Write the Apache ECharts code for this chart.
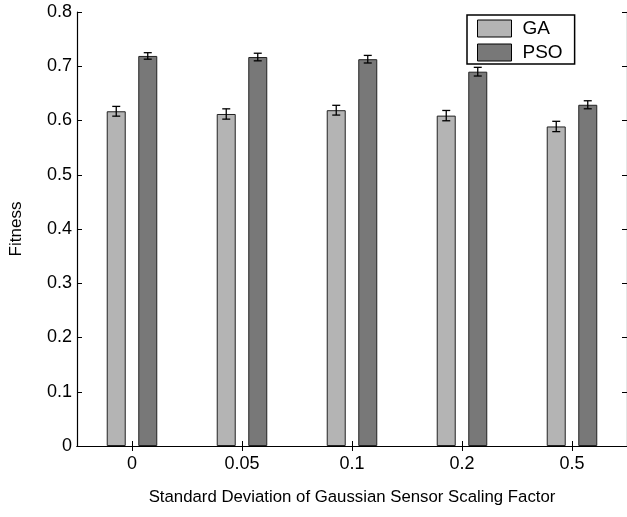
<!DOCTYPE html>
<html><head><meta charset="utf-8">
<script src="https://cdn.jsdelivr.net/npm/echarts@6/dist/echarts.min.js"></script>
<style>html,body{margin:0;padding:0;background:#fff}#c{width:627px;height:517px}</style>
</head><body><div id="c"></div>
<script>
const categories = ['0', '0.05', '0.1', '0.2', '0.5'];
const gaValues = [0.617, 0.612, 0.619, 0.609, 0.589];
const gaErrors = [0.009, 0.0095, 0.009, 0.0095, 0.0095];
const psoValues = [0.719, 0.717, 0.713, 0.690, 0.629];
const psoErrors = [0.006, 0.007, 0.007, 0.008, 0.0074];
const yTicks = [0, 0.1, 0.2, 0.3, 0.4, 0.5, 0.6, 0.7, 0.8];

const FONT = '"Liberation Sans", Arial, Helvetica, sans-serif';
const chart = echarts.init(document.getElementById('c'), null, {renderer: 'canvas'});

function errData(vals, errs) {
  return vals.map((v, i) => [i, v - errs[i], v + errs[i]]);
}
function errSeries(name, vals, errs, offset) {
  return {
    type: 'custom', name: name + ' err', z: 10, silent: true,
    data: errData(vals, errs),
    renderItem: function (params, api) {
      const lo = api.coord([api.value(0), api.value(1)]);
      const hi = api.coord([api.value(0), api.value(2)]);
      const x = lo[0] + offset;
      const cap = 4;
      const st = {stroke: '#000', lineWidth: 1.3};
      return {type: 'group', children: [
        {type: 'line', shape: {x1: x, y1: lo[1], x2: x, y2: hi[1]}, style: st},
        {type: 'line', shape: {x1: x - cap, y1: lo[1], x2: x + cap, y2: lo[1]}, style: st},
        {type: 'line', shape: {x1: x - cap, y1: hi[1], x2: x + cap, y2: hi[1]}, style: st}
      ]};
    }
  };
}

const axisLine = {show: true, lineStyle: {color: '#000', width: 1.2}};
chart.setOption({
  animation: false,
  backgroundColor: '#fff',
  textStyle: {fontFamily: FONT},
  grid: {left: 77, top: 12, width: 552, height: 434, containLabel: false},
  legend: {
    data: ['GA', 'PSO'], orient: 'vertical', left: 467, top: 15,
    icon: 'rect',
    itemWidth: 34, itemHeight: 17, itemGap: 5,
    padding: [4, 12, 2, 10],
    borderColor: '#000', borderWidth: 1.5, backgroundColor: '#fff',
    textStyle: {fontSize: 19, lineHeight: 17, color: '#000', fontFamily: FONT, padding: [0, 0, 0, 6]},
    itemStyle: {borderColor: '#000', borderWidth: 1}
  },
  xAxis: [{
    type: 'category', data: categories, position: 'bottom',
    axisLine: axisLine,
    axisTick: {show: true, inside: true, alignWithLabel: true, length: 5, lineStyle: {color: '#000'}},
    axisLabel: {fontSize: 18, color: '#000', margin: 9, fontFamily: FONT},
    name: 'Standard Deviation of Gaussian Sensor Scaling Factor',
    nameLocation: 'middle', nameGap: 43,
    nameTextStyle: {fontSize: 16.8, color: '#000', fontFamily: FONT}
  }, {
    type: 'category', data: categories, position: 'top',
    axisLine: axisLine,
    axisTick: {show: true, inside: true, alignWithLabel: true, length: 5, lineStyle: {color: '#000'}},
    axisLabel: {show: false}
  }],
  yAxis: [{
    type: 'value', min: 0, max: 0.8, interval: 0.1, position: 'left',
    axisLine: axisLine, splitLine: {show: false},
    axisTick: {show: true, inside: true, length: 5, lineStyle: {color: '#000'}},
    axisLabel: {fontSize: 18, color: '#000', margin: 5, fontFamily: FONT,
      formatter: v => { const t = yTicks.find(k => Math.abs(k - v) < 1e-9); return t === 0 ? '0' : String(t); }},
    name: 'Fitness', nameLocation: 'middle', nameGap: 52,
    nameTextStyle: {fontSize: 17, color: '#000', fontFamily: FONT}
  }, {
    type: 'value', min: 0, max: 0.8, interval: 0.1, position: 'right',
    axisLine: axisLine, splitLine: {show: false},
    axisTick: {show: true, inside: true, length: 5, lineStyle: {color: '#000'}},
    axisLabel: {show: false}
  }],
  series: [
    {name: 'GA', type: 'bar', data: gaValues, barWidth: 19, barGap: '66%',
     itemStyle: {color: '#b4b4b4', borderColor: '#222', borderWidth: 1}},
    {name: 'PSO', type: 'bar', data: psoValues, barWidth: 19, barGap: '66%',
     itemStyle: {color: '#787878', borderColor: '#222', borderWidth: 1}},
    errSeries('GA', gaValues, gaErrors, -15.75),
    errSeries('PSO', psoValues, psoErrors, 15.75)
  ]
});
</script></body></html>
